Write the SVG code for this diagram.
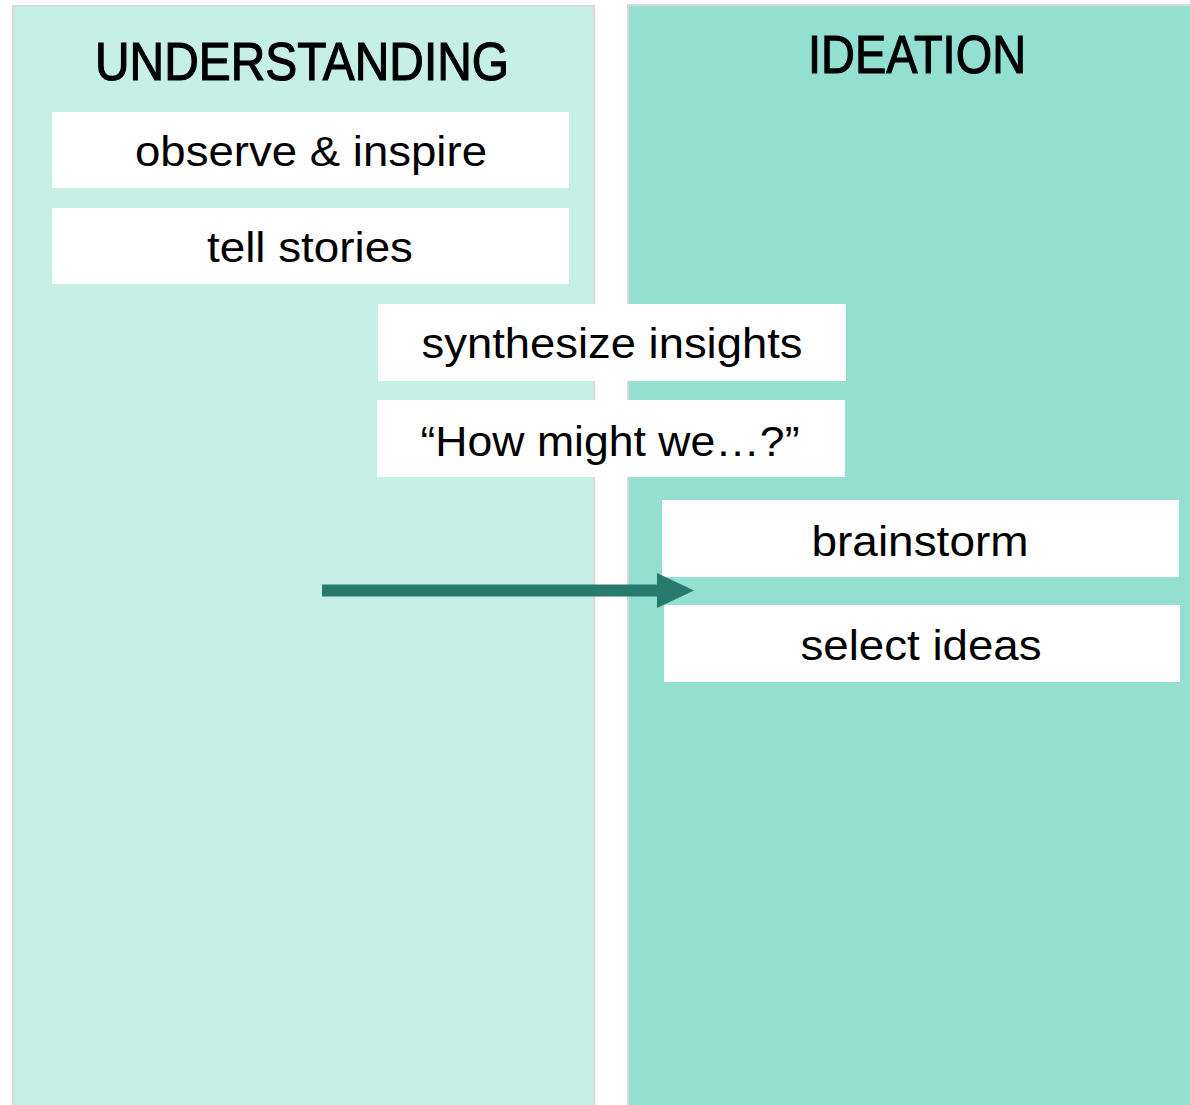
<svg xmlns="http://www.w3.org/2000/svg" width="1190" height="1105" viewBox="0 0 1190 1105">
<style>
.panel{stroke:#d9d9d9;stroke-width:2}
.box{fill:#ffffff}
.t{font-family:"Liberation Sans",Arial,sans-serif;fill:#000;text-anchor:middle}
.title{font-size:54px;stroke:#000;stroke-width:1.2}
.lbl{font-size:42px}
</style>
<rect width="1190" height="1105" fill="#ffffff"/>
<g id="understanding">
<rect class="panel" x="13" y="6" width="581" height="1110" fill="#c6efe6"/>
<text class="t title" x="302" y="80" textLength="414" lengthAdjust="spacingAndGlyphs">UNDERSTANDING</text>
</g>
<g id="ideation">
<rect class="panel" x="628" y="5" width="580" height="1110" fill="#93dfd2"/>
<text class="t title" x="917" y="73" textLength="218" lengthAdjust="spacingAndGlyphs">IDEATION</text>
</g>
<g id="observe">
<rect class="box" x="52" y="112" width="517" height="76"/>
<text class="t lbl" x="311" y="166" textLength="352" lengthAdjust="spacingAndGlyphs">observe &amp; inspire</text>
</g>
<g id="tell">
<rect class="box" x="52" y="208" width="517" height="76"/>
<text class="t lbl" x="310" y="262" textLength="206" lengthAdjust="spacingAndGlyphs">tell stories</text>
</g>
<g id="synthesize">
<rect class="box" x="378" y="304" width="468" height="77"/>
<text class="t lbl" x="612" y="358" textLength="381" lengthAdjust="spacingAndGlyphs">synthesize insights</text>
</g>
<g id="hmw">
<rect class="box" x="377" y="400" width="468" height="77"/>
<text class="t lbl" x="610" y="456" textLength="379" lengthAdjust="spacingAndGlyphs">“How might we…?”</text>
</g>
<g id="brainstorm">
<rect class="box" x="662" y="500" width="517" height="77"/>
<text class="t lbl" x="920" y="556" textLength="217" lengthAdjust="spacingAndGlyphs">brainstorm</text>
</g>
<g id="select">
<rect class="box" x="664" y="605" width="516" height="77"/>
<text class="t lbl" x="921" y="660" textLength="241" lengthAdjust="spacingAndGlyphs">select ideas</text>
</g>
<g id="connectors">
<rect x="322" y="584.5" width="336" height="12" fill="#267b6e"/>
<polygon points="657,573 694,590.5 657,608" fill="#267b6e"/>
</g>
</svg>
